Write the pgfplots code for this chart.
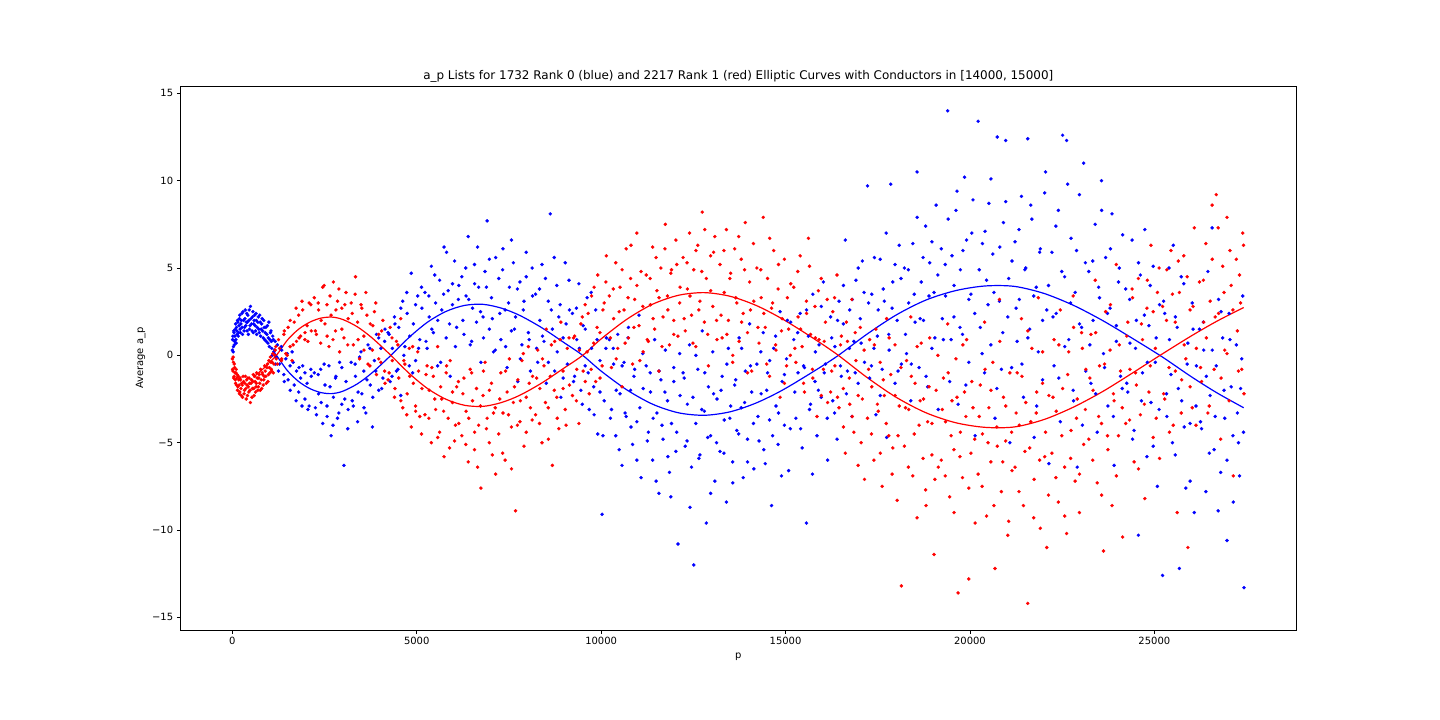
\documentclass[border=0pt]{standalone}
\usepackage{pgfplots}
\pgfplotsset{compat=1.18}
\usepackage{fontspec}
\setmainfont{DejaVu Sans}
\begin{document}
\begin{tikzpicture}
\path[use as bounding box] (0,0) rectangle (1440bp,720bp);
\begin{axis}[
 at={(180.3bp,89.7bp)}, anchor=south west,
 scale only axis, width=1116bp, height=544.3bp,
 xmin=-1410, xmax=28850, ymin=-15.74, ymax=15.42,
 scaled x ticks=false, scaled y ticks=false,
 xtick={0,5000,10000,15000,20000,25000},
 xticklabels={0,5000,10000,15000,20000,25000},
 ytick={-15,-10,-5,0,5,10,15},
 yticklabels={−15,−10,−5,0,5,10,15},
 tick pos=left,
 tick align=outside, major tick length=3.5bp,
 tick style={black, line width=0.8bp},
 axis line style={line width=0.8bp},
 tick label style={font=\fontsize{10}{12}\selectfont},
 xticklabel style={inner sep=0pt, yshift=-3.5bp},
 yticklabel style={inner sep=0pt, xshift=-3.5bp},
 every axis title shift=0pt,
 title={a\_p Lists for 1732 Rank 0 (blue) and 2217 Rank 1 (red) Elliptic Curves with Conductors in [14000, 15000]},
 title style={at={(axis description cs:0.5,1.01194)}, anchor=base, inner sep=0pt, font=\fontsize{12}{14}\selectfont},
 xlabel={p},
 xlabel style={at={(axis description cs:0.5,-0.0527)}, anchor=base, inner sep=0pt, font=\fontsize{10}{12}\selectfont},
 ylabel={Average a\_p},
 ylabel style={at={(axis description cs:-0.0332,0.5)}, anchor=base, inner sep=0pt, font=\fontsize{10}{12}\selectfont},
]
% blue scatter (rank 0)
\addplot[blue, only marks, mark=*, mark size=1.6bp, mark options={solid, draw=blue, fill=blue, line width=0.3bp}] coordinates {
(2,0.3)(17,1.1)(31,0.5)(47,1.3)(61,0.8)(79,1.5)(97,0.9)(113,1.6)(131,1.2)(151,1.9)(173,1.3)(193,2.1)(211,1.5)(233,1.8)(257,2.4)(277,1.2)(307,2.0)(331,1.6)(353,2.6)(379,1.9)(401,1.4)(421,2.3)(449,2.0)(467,1.5)(491,2.8)(521,1.8)(547,2.2)(569,1.3)(593,2.0)(619,1.7)(643,2.4)(661,1.2)(691,1.9)(719,1.5)(743,2.3)(769,1.1)(797,1.8)(823,1.4)(853,2.0)(877,0.9)(907,1.6)(937,1.2)(967,0.7)(991,1.9)(1019,0.9)(1049,1.4)(1069,0.4)(1097,1.1)(1129,0.2)(1163,0.8)(1193,-0.1)
(9,0.9)(24,0.2)(39,1.4)(54,0.6)(71,1.1)(89,1.8)(105,0.7)(122,1.4)(141,2.0)(162,1.1)(183,1.7)(202,2.3)(222,1.3)(245,2.0)(267,1.6)(292,2.5)(319,1.4)(342,2.1)(367,1.7)(390,2.4)(411,1.9)(435,1.2)(458,2.6)(480,1.7)(506,2.1)(534,1.4)(558,2.5)(581,1.8)(606,2.3)(631,1.4)(652,2.0)(676,1.6)(705,2.2)(731,1.3)(756,1.9)(783,1.5)(810,2.1)(838,1.0)(865,1.6)(892,1.3)(922,0.8)(952,1.7)(979,1.0)(1005,0.5)(1034,1.3)(1059,0.8)(1083,0.0)(1113,0.9)(1146,0.3)(1178,-0.5)
(1223,0.6)(1281,-0.5)(1339,0.3)(1397,-1.1)(1451,-0.2)(1513,-1.4)(1567,-0.6)(1621,0.2)(1679,-1.7)(1741,-0.9)(1799,-2.1)(1853,-1.3)(1909,-0.6)(1969,-2.5)(2027,-1.6)(2083,-2.9)(2141,-1.2)
(2223,-1.0)(2281,-3.4)(2339,-2.2)(2397,-0.8)(2451,-3.9)(2513,-1.7)(2567,-2.9)(2621,-0.6)(2679,-4.6)(2741,-2.4)(2799,-1.3)(2853,-3.6)(2909,-0.4)(2969,-2.8)(3027,-6.3)(3083,-1.5)(3141,-3.1)
(3223,-0.4)(3281,-2.9)(3339,-1.2)(3397,-3.8)(3451,-0.1)(3513,-2.2)(3567,-0.9)(3621,-3.3)(3679,0.6)(3741,-1.7)(3799,-4.1)(3853,-0.3)(3909,1.2)(3969,-2.0)(4027,0.4)(4083,-1.3)(4141,1.5)
(4223,1.3)(4281,-1.5)(4339,0.4)(4397,2.2)(4451,-0.9)(4513,1.6)(4567,-2.3)(4621,3.1)(4679,0.5)(4741,2.4)(4799,-0.6)(4853,4.7)(4909,1.8)(4969,-0.3)(5027,3.4)(5083,0.9)(5141,2.7)
(5223,3.6)(5281,0.4)(5339,2.2)(5397,5.1)(5451,1.3)(5513,3.0)(5567,-0.6)(5621,4.3)(5679,2.6)(5741,6.2)(5799,1.0)(5853,3.7)(5909,-1.2)(5969,2.9)(6027,5.4)(6083,1.6)(6141,4.0)
(6223,4.5)(6281,1.2)(6339,3.4)(6397,6.8)(6451,0.6)(6513,2.7)(6567,5.2)(6621,1.9)(6679,3.9)(6741,-0.4)(6799,2.2)(6853,4.8)(6909,7.7)(6969,1.5)(7027,3.3)(7083,0.2)(7141,5.6)
(7223,4.4)(7281,0.9)(7339,6.1)(7397,2.6)(7451,-0.7)(7513,3.9)(7567,1.4)(7621,5.3)(7679,2.2)(7741,-1.5)(7799,4.2)(7853,0.6)(7909,3.1)(7969,5.9)(8027,1.3)(8083,-0.9)(8141,3.4)
(8223,3.5)(8281,-0.4)(8339,2.0)(8397,5.2)(8451,0.8)(8513,-1.6)(8567,3.1)(8621,8.1)(8679,1.5)(8741,-0.9)(8799,4.0)(8853,2.2)(8909,-2.4)(8969,1.0)(9027,5.3)(9083,-0.5)(9141,2.6)
(9223,2.4)(9281,-1.2)(9339,0.9)(9397,4.1)(9451,-2.0)(9513,1.7)(9567,-0.6)(9621,3.3)(9679,-3.1)(9741,0.4)(9799,-1.8)(9853,2.6)(9909,-4.5)(9969,-0.3)(10027,-9.1)(10083,-2.6)(10141,1.0)
(10223,0.9)(10281,-3.1)(10339,-0.5)(10397,-4.6)(10451,1.2)(10513,-2.2)(10567,-6.3)(10621,-0.4)(10679,-3.5)(10741,1.6)(10799,-2.0)(10853,-5.1)(10909,-0.8)(10969,-3.8)(11027,2.3)(11083,-7.0)(11141,-1.9)
(11223,-0.6)(11281,-4.4)(11339,-2.1)(11397,-6.0)(11451,0.9)(11513,-3.3)(11567,-7.9)(11621,-1.4)(11679,-4.8)(11741,0.3)(11799,-2.6)(11853,-6.7)(11909,-3.9)(11969,-0.7)(12027,-5.5)(12083,-10.8)(12141,-2.3)
(12223,-1.0)(12281,-5.2)(12339,-2.8)(12397,0.6)(12451,-6.4)(12513,-12.0)(12567,-3.9)(12621,-0.8)(12679,-5.7)(12741,1.4)(12799,-3.2)(12853,-9.6)(12909,-1.8)(12969,-4.6)(13027,0.2)(13083,-7.2)(13141,-2.5)
(13223,-5.5)(13281,-1.2)(13339,-3.7)(13397,-8.4)(13451,0.4)(13513,-2.9)(13567,-6.1)(13621,-1.7)(13679,-4.3)(13741,1.0)(13799,-3.0)(13853,-7.0)(13909,-0.9)(13969,-4.8)(14027,1.8)(14083,-2.1)(14141,-6.5)
(14223,-0.5)(14281,-4.9)(14339,-2.2)(14397,1.3)(14451,-6.2)(14513,-1.0)(14567,-3.7)(14621,-8.6)(14679,0.4)(14741,-2.9)(14799,-5.1)(14853,2.5)(14909,-1.5)(14969,-4.0)(15027,-0.2)(15083,-6.6)(15141,1.9)
(15223,0.9)(15281,-3.6)(15339,-1.0)(15397,2.4)(15451,-5.3)(15513,-0.7)(15567,-9.6)(15621,1.1)(15679,-2.8)(15741,3.5)(15799,-1.5)(15853,-4.6)(15909,0.6)(15969,-2.4)(16027,4.2)(16083,-0.5)(16141,-6.0)
(16223,2.2)(16281,-2.6)(16339,0.5)(16397,-4.8)(16451,3.1)(16513,-1.2)(16567,1.8)(16621,6.6)(16679,-0.9)(16741,2.6)(16799,-3.5)(16853,0.8)(16909,4.3)(16969,-1.6)(17027,2.1)(17083,5.4)(17141,-0.4)
(17223,9.7)(17281,-1.3)(17339,3.5)(17397,0.4)(17451,-3.4)(17513,2.6)(17567,5.5)(17621,-0.8)(17679,3.1)(17741,-4.7)(17799,1.2)(17853,9.8)(17909,4.2)(17969,-1.6)(18027,2.0)(18083,6.3)(18141,-0.5)
(18223,5.0)(18281,0.1)(18339,3.0)(18397,-2.6)(18451,6.4)(18513,1.9)(18567,10.5)(18621,-0.7)(18679,4.2)(18741,2.0)(18799,7.4)(18853,-1.8)(18909,5.3)(18969,0.4)(19027,3.6)(19083,8.6)(19141,-3.1)
(19223,6.1)(19281,0.9)(19339,3.4)(19397,14.0)(19451,-1.5)(19513,5.7)(19567,2.2)(19621,8.3)(19679,-2.8)(19741,4.9)(19799,1.2)(19853,10.2)(19909,6.6)(19969,-0.4)(20027,3.5)(20083,8.9)(20141,-4.6)
(20223,13.4)(20281,1.6)(20339,6.4)(20397,-1.0)(20451,4.3)(20513,8.7)(20567,0.6)(20621,5.8)(20679,-3.6)(20741,12.5)(20799,3.1)(20853,-0.8)(20909,7.6)(20969,12.3)(21027,2.2)(21083,-5.0)(21141,5.4)
(21223,6.5)(21281,0.8)(21339,3.2)(21397,9.1)(21451,-2.4)(21513,5.0)(21567,12.4)(21621,1.5)(21679,7.8)(21741,-4.7)(21799,3.9)(21853,0.2)(21909,6.1)(21969,-1.4)(22027,9.3)(22083,2.6)(22141,-6.2)
(22223,5.9)(22281,-0.6)(22339,2.4)(22397,8.3)(22451,-3.8)(22513,12.6)(22567,4.5)(22621,12.3)(22679,0.9)(22741,6.7)(22799,-2.0)(22853,3.6)(22909,-6.4)(22969,9.2)(23027,1.6)(23083,11.0)(23141,-0.9)
(23223,4.8)(23281,-1.6)(23339,2.0)(23397,7.5)(23451,-4.4)(23513,3.3)(23567,10.0)(23621,0.1)(23679,5.6)(23741,-2.9)(23799,2.7)(23853,8.1)(23909,-6.3)(23969,0.8)(24027,4.2)(24083,-1.2)(24141,6.9)
(24223,3.8)(24281,-2.1)(24339,0.7)(24397,6.6)(24451,-4.3)(24513,2.0)(24567,-10.3)(24621,4.6)(24679,-1.0)(24741,7.2)(24799,-5.8)(24853,1.7)(24909,-2.7)(24969,5.1)(25027,-0.4)(25083,-7.5)(25141,2.9)
(25223,-12.6)(25281,2.4)(25339,-3.5)(25397,5.0)(25451,-1.1)(25513,6.3)(25567,-5.7)(25621,1.6)(25679,-12.2)(25741,-2.6)(25799,4.1)(25853,-7.6)(25909,0.7)(25969,-3.9)(26027,3.0)(26083,-9.0)(26141,-0.6)
(26223,1.5)(26281,-4.2)(26339,0.3)(26397,-7.8)(26451,4.8)(26513,-2.3)(26567,7.3)(26621,-5.4)(26679,-0.6)(26741,3.2)(26799,-6.7)(26853,1.0)(26909,-3.6)(26969,-10.6)(27027,2.4)(27083,-1.8)(27141,-8.4)
(27223,0.6)(27281,-5.0)(27339,-1.9)(27397,3.4)(27431,-13.3)
(1252,-0.9)(1330,0.5)(1410,-1.5)(1490,0.1)(1570,-2.0)(1650,-0.4)(1730,-2.6)(1810,-0.7)(1890,-2.9)(1970,-1.0)(2050,-3.1)(2130,-0.8)
(2252,-3.0)(2330,-1.1)(2410,-2.7)(2490,-0.5)(2570,-3.5)(2650,-1.8)(2730,-4.0)(2810,-1.2)(2890,-3.3)(2970,-0.7)(3050,-2.5)(3130,-4.2)
(3252,-2.6)(3330,-0.5)(3410,-2.1)(3490,0.2)(3570,-3.0)(3650,-1.4)(3730,0.4)(3810,-2.4)(3890,-0.9)(3970,1.0)(4050,-1.9)(4130,0.8)
(4252,1.2)(4330,-1.2)(4410,1.8)(4490,-0.8)(4570,2.7)(4650,0.0)(4730,3.6)(4810,1.1)(4890,-1.0)(4970,2.9)(5050,0.4)(5130,3.9)
(5252,0.8)(5330,3.4)(5410,1.5)(5490,4.6)(5570,2.0)(5650,-0.4)(5730,3.5)(5810,5.9)(5890,1.8)(5970,4.1)(6050,0.5)(6130,3.2)
(6252,2.0)(6330,5.0)(6410,3.2)(6490,0.8)(6570,4.1)(6650,6.2)(6730,2.5)(6810,1.0)(6890,3.9)(6970,5.5)(7050,2.1)(7130,0.3)
(7252,2.4)(7330,4.9)(7410,0.5)(7490,3.0)(7570,6.6)(7650,1.5)(7730,3.8)(7810,-0.2)(7890,2.6)(7970,4.5)(8050,0.9)(8130,5.0)
(8252,0.4)(8330,3.8)(8410,1.1)(8490,4.4)(8570,-0.4)(8650,2.6)(8730,5.6)(8810,0.2)(8890,2.9)(8970,-1.3)(9050,1.8)(9130,4.3)
(9252,-1.5)(9330,2.7)(9410,0.4)(9490,-2.8)(9570,1.5)(9650,-1.0)(9730,3.6)(9810,-3.4)(9890,0.9)(9970,-2.1)(10050,-4.6)(10130,0.4)
(10252,-3.6)(10330,0.4)(10410,-2.0)(10490,-5.4)(10570,-0.6)(10650,-3.3)(10730,1.0)(10810,-4.1)(10890,-1.2)(10970,-6.0)(11050,-3.0)(11130,0.1)
(11252,-4.9)(11330,-1.0)(11410,-3.6)(11490,-7.2)(11570,-0.9)(11650,-4.0)(11730,-2.1)(11810,-5.8)(11890,-8.1)(11970,-1.5)(12050,-4.4)(12130,0.1)
(12252,-1.3)(12330,-4.9)(12410,-8.7)(12490,-2.4)(12570,0.0)(12650,-5.9)(12730,-3.1)(12810,-1.0)(12890,-4.7)(12970,-7.9)(13050,-2.2)(13130,-5.0)
(13252,-2.0)(13330,-5.6)(13410,-0.5)(13490,-3.6)(13570,-7.3)(13650,-1.4)(13730,-4.5)(13810,0.4)(13890,-2.7)(13970,-6.1)(14050,-0.6)(14130,-3.9)
(14252,-3.5)(14330,0.2)(14410,-5.4)(14490,-2.0)(14570,-0.3)(14650,-4.6)(14730,1.1)(14810,-3.3)(14890,-6.9)(14970,-1.1)(15050,2.0)(15130,-4.2)
(15252,-2.1)(15330,1.3)(15410,-4.2)(15490,-0.6)(15570,2.6)(15650,-3.1)(15730,-6.8)(15810,0.2)(15890,-2.0)(15970,2.8)(16050,-1.0)(16130,-3.6)
(16252,1.0)(16330,-3.3)(16410,2.0)(16490,-0.6)(16570,4.0)(16650,-2.2)(16730,0.4)(16810,3.2)(16890,-1.0)(16970,5.0)(17050,0.7)(17130,3.6)
(17252,3.0)(17330,-0.6)(17410,5.6)(17490,1.1)(17570,-2.3)(17650,3.8)(17730,7.0)(17810,0.3)(17890,2.7)(17970,5.2)(18050,-0.9)(18130,4.4)
(18252,1.2)(18330,4.9)(18410,-0.5)(18490,3.5)(18570,7.9)(18650,2.1)(18730,5.6)(18810,-1.2)(18890,3.4)(18970,6.5)(19050,1.0)(19130,4.6)
(19252,2.1)(19330,5.2)(19410,7.8)(19490,0.9)(19570,4.0)(19650,9.4)(19730,1.6)(19810,6.0)(19890,-1.7)(19970,3.2)(20050,7.0)(20130,2.4)
(20252,4.9)(20330,0.1)(20410,7.1)(20490,2.9)(20570,10.1)(20650,3.6)(20730,-1.9)(20810,6.2)(20890,1.3)(20970,8.8)(21050,4.4)(21130,-0.7)
(21252,2.7)(21330,7.2)(21410,-0.5)(21490,4.9)(21570,1.0)(21650,8.6)(21730,3.4)(21810,-2.9)(21890,5.9)(21970,2.0)(22050,10.5)(22130,4.0)
(22252,2.2)(22330,7.4)(22410,-1.3)(22490,4.8)(22570,0.5)(22650,9.8)(22730,3.0)(22810,-2.6)(22890,6.0)(22970,1.8)(23050,-4.0)(23130,5.3)
(23252,0.6)(23330,5.4)(23410,-2.2)(23490,3.9)(23570,8.3)(23650,-0.7)(23730,2.4)(23810,6.1)(23890,-3.5)(23970,1.7)(24050,5.0)(24130,-1.9)
(24252,-1.6)(24330,3.2)(24410,-4.8)(24490,0.4)(24570,5.3)(24650,-2.6)(24730,2.3)(24810,-0.4)(24890,4.0)(24970,-5.2)(25050,1.0)(25130,-3.1)
(25252,3.1)(25330,-2.2)(25410,0.9)(25490,-5.0)(25570,2.2)(25650,-1.9)(25730,4.5)(25810,-4.1)(25890,-0.5)(25970,-7.2)(26050,1.5)(26130,-2.9)
(26252,-3.8)(26330,1.9)(26410,-1.2)(26490,-5.6)(26570,0.3)(26650,-3.5)(26730,-8.9)(26810,2.5)(26890,-2.0)(26970,-6.0)(27050,0.9)(27130,-4.6)
(27252,-3.3)(27310,-6.9)(27370,-0.2)(27418,-4.4)
};
% red scatter (rank 1)
\addplot[red, only marks, mark=*, mark size=1.6bp, mark options={solid, draw=red, fill=red, line width=0.3bp}] coordinates {
(2,-0.2)(17,-0.9)(31,-0.4)(47,-1.2)(61,-0.7)(79,-1.4)(97,-1.0)(113,-1.7)(131,-1.1)(151,-1.8)(173,-1.4)(193,-2.2)(211,-1.3)(233,-1.9)(257,-1.6)(277,-2.4)(307,-1.5)(331,-2.0)(353,-1.2)(379,-2.5)(401,-1.7)(421,-1.3)(449,-2.1)(467,-1.6)(491,-2.7)(521,-1.4)(547,-1.9)(569,-1.1)(593,-2.3)(619,-1.5)(643,-1.8)(661,-1.0)(691,-2.0)(719,-1.3)(743,-1.6)(769,-0.8)(797,-1.9)(823,-1.1)(853,-1.4)(877,-0.6)(907,-1.2)(937,-0.7)(967,-1.5)(991,-0.3)(1019,-1.0)(1049,-0.4)(1069,-0.9)(1097,0.1)(1129,-0.5)(1163,0.3)(1193,-0.2)
(9,-0.8)(24,-0.1)(39,-1.3)(54,-0.5)(71,-1.0)(89,-1.6)(105,-0.8)(122,-1.3)(141,-2.0)(162,-1.2)(183,-1.7)(202,-2.1)(222,-1.4)(245,-2.3)(267,-1.7)(292,-1.2)(319,-2.2)(342,-1.6)(367,-1.9)(390,-1.4)(411,-2.3)(435,-1.8)(458,-1.3)(480,-2.0)(506,-1.6)(534,-2.4)(558,-1.5)(581,-1.9)(606,-1.2)(631,-2.1)(652,-1.6)(676,-1.3)(705,-1.8)(731,-1.1)(756,-2.0)(783,-1.4)(810,-1.0)(838,-1.7)(865,-1.2)(892,-0.9)(922,-1.6)(952,-0.5)(979,-1.1)(1005,-0.7)(1034,-0.1)(1059,-0.8)(1083,-0.4)(1113,-1.0)(1146,0.0)(1178,0.5)
(1223,-0.5)(1281,0.4)(1339,-0.2)(1397,1.2)(1451,0.1)(1513,1.6)(1567,0.5)(1621,-0.3)(1679,1.9)(1741,0.8)(1799,2.3)(1853,1.1)(1909,2.6)(1969,0.9)(2027,1.7)(2083,3.0)(2141,1.4)
(2223,3.3)(2281,1.2)(2339,2.6)(2397,0.7)(2451,3.9)(2513,1.8)(2567,2.9)(2621,0.5)(2679,2.3)(2741,4.2)(2799,1.4)(2853,3.1)(2909,0.2)(2969,2.7)(3027,1.0)(3083,3.6)(3141,2.1)
(3223,3.0)(3281,0.6)(3339,4.5)(3397,1.9)(3451,-0.2)(3513,2.7)(3567,1.1)(3621,3.6)(3679,-0.5)(3741,1.8)(3799,0.3)(3853,2.5)(3909,-1.1)(3969,1.2)(4027,-0.4)(4083,2.0)(4141,-1.6)
(4223,-1.4)(4281,1.6)(4339,-0.3)(4397,-2.4)(4451,0.8)(4513,-1.3)(4567,2.1)(4621,-3.0)(4679,-0.5)(4741,-2.2)(4799,0.4)(4853,-4.1)(4909,-1.6)(4969,-2.9)(5027,0.2)(5083,-3.5)(5141,-1.9)
(5223,-3.4)(5281,-0.6)(5339,-2.0)(5397,-5.0)(5451,-1.2)(5513,-3.1)(5567,0.5)(5621,-4.4)(5679,-2.5)(5741,-5.8)(5799,-1.0)(5853,-3.6)(5909,-0.3)(5969,-2.7)(6027,-4.9)(6083,-1.8)(6141,-3.9)
(6223,-4.6)(6281,-1.3)(6339,-3.2)(6397,-6.1)(6451,-0.8)(6513,-2.6)(6567,-5.4)(6621,-1.9)(6679,-4.0)(6741,-7.6)(6799,-2.3)(6853,-0.4)(6909,-3.6)(6969,-5.0)(7027,-1.6)(7083,-3.3)(7141,-6.8)
(7223,-4.5)(7281,-1.0)(7339,-3.3)(7397,-6.0)(7451,-2.1)(7513,-0.2)(7567,-4.1)(7621,-2.7)(7679,-8.9)(7741,-1.4)(7799,-3.8)(7853,-0.3)(7909,-5.2)(7969,-2.4)(8027,0.5)(8083,-3.0)(8141,-1.2)
(8223,-3.4)(8281,0.3)(8339,-1.9)(8397,-5.0)(8451,-0.6)(8513,1.5)(8567,-3.0)(8621,-1.2)(8679,-6.3)(8741,0.8)(8799,-2.4)(8853,-4.2)(8909,1.9)(8969,-0.9)(9027,-3.1)(9083,0.4)(9141,-1.7)
(9223,-2.3)(9281,1.1)(9339,-0.8)(9397,-3.9)(9451,1.8)(9513,-0.9)(9567,2.9)(9621,0.2)(9679,-2.2)(9741,3.4)(9799,0.7)(9853,-1.5)(9909,4.6)(9969,1.3)(10027,-0.6)(10083,3.0)(10141,5.7)
(10223,3.4)(10281,-0.7)(10339,2.1)(10397,5.3)(10451,0.4)(10513,3.9)(10567,-1.8)(10621,2.6)(10679,6.1)(10741,1.0)(10799,4.4)(10853,-0.5)(10909,3.2)(10969,7.0)(11027,1.7)(11083,4.8)(11141,0.2)
(11223,4.6)(11281,0.8)(11339,2.9)(11397,6.2)(11451,1.5)(11513,3.7)(11567,-0.9)(11621,5.0)(11679,2.2)(11741,7.5)(11799,3.4)(11853,0.6)(11909,4.9)(11969,2.0)(12027,6.6)(12083,1.1)(12141,3.9)
(12223,5.6)(12281,1.4)(12339,3.8)(12397,7.0)(12451,2.3)(12513,4.9)(12567,0.5)(12621,6.3)(12679,3.1)(12741,8.2)(12799,1.9)(12853,4.4)(12909,-0.6)(12969,5.7)(13027,2.8)(13083,6.8)(13141,0.9)
(13223,5.2)(13281,1.0)(13339,3.6)(13397,7.2)(13451,2.0)(13513,4.7)(13567,-0.4)(13621,6.1)(13679,3.0)(13741,0.8)(13799,5.5)(13853,2.4)(13909,7.6)(13969,1.3)(14027,4.2)(14083,-0.9)(14141,3.1)
(14223,5.0)(14281,0.7)(14339,3.3)(14397,7.9)(14451,1.6)(14513,4.4)(14567,-1.2)(14621,2.7)(14679,6.0)(14741,0.3)(14799,3.8)(14853,-2.4)(14909,2.1)(14969,5.5)(15027,-0.6)(15083,1.5)(15141,4.1)
(15223,3.9)(15281,-0.4)(15339,2.2)(15397,5.7)(15451,0.5)(15513,-2.1)(15567,3.1)(15621,6.7)(15679,1.2)(15741,-1.3)(15799,2.8)(15853,-3.5)(15909,0.9)(15969,4.4)(16027,-0.8)(16083,1.9)(16141,-2.7)
(16223,-2.1)(16281,2.5)(16339,-0.6)(16397,4.6)(16451,-3.0)(16513,1.1)(16567,-1.9)(16621,-5.6)(16679,0.8)(16741,-2.8)(16799,3.2)(16853,-4.4)(16909,-0.3)(16969,-6.3)(17027,1.6)(17083,-2.5)(17141,-7.1)
(17223,-3.6)(17281,0.9)(17339,-1.8)(17397,-6.0)(17451,1.5)(17513,-3.2)(17567,-0.4)(17621,-7.5)(17679,-2.3)(17741,2.1)(17799,-4.6)(17853,-1.1)(17909,-5.3)(17969,0.6)(18027,-8.3)(18083,-2.9)(18141,-13.2)
(18223,-5.2)(18281,-0.3)(18339,-3.1)(18397,2.2)(18451,-6.9)(18513,-1.6)(18567,-9.3)(18621,-4.0)(18679,0.7)(18741,-2.5)(18799,-7.7)(18853,-3.8)(18909,1.0)(18969,-5.7)(19027,-11.4)(19083,-2.0)(19141,-6.4)
(19223,-6.0)(19281,-1.3)(19339,-3.8)(19397,1.8)(19451,-8.1)(19513,-2.6)(19567,-5.4)(19621,-0.2)(19679,-13.6)(19741,-4.4)(19799,-7.0)(19853,-2.1)(19909,0.9)(19969,-12.8)(20027,-5.6)(20083,-3.0)(20141,-9.6)
(20223,-6.8)(20281,-1.7)(20339,-4.5)(20397,1.9)(20451,-9.2)(20513,-3.0)(20567,-6.1)(20621,-0.4)(20679,-12.2)(20741,-5.2)(20799,3.2)(20853,-7.8)(20909,-2.4)(20969,-4.9)(21027,-10.3)(21083,-1.0)(21141,-6.6)
(21223,-6.4)(21281,-1.0)(21339,-4.0)(21397,2.1)(21451,-8.6)(21513,-2.7)(21567,-14.2)(21621,-5.3)(21679,0.4)(21741,-7.1)(21799,-3.3)(21853,3.3)(21909,-9.9)(21969,-1.6)(22027,-5.8)(22083,-11.0)(22141,-2.3)
(22223,-5.6)(22281,0.9)(22339,-3.2)(22397,-8.4)(22451,2.6)(22513,-1.9)(22567,-6.4)(22621,-10.2)(22679,0.2)(22741,-4.3)(22799,3.4)(22853,-7.2)(22909,-2.5)(22969,-9.0)(23027,1.3)(23083,-5.1)(23141,-0.8)
(23223,-4.8)(23281,1.2)(23339,-2.0)(23397,4.3)(23451,-7.3)(23513,-0.6)(23567,-3.9)(23621,-11.2)(23679,2.5)(23741,-5.4)(23799,0.3)(23853,-8.6)(23909,-2.6)(23969,5.2)(24027,-4.6)(24083,-0.9)(24141,-10.4)
(24223,-3.9)(24281,1.9)(24339,-0.8)(24397,3.8)(24451,-6.1)(24513,-1.7)(24567,4.4)(24621,-3.4)(24679,0.9)(24741,-8.2)(24799,2.7)(24853,-2.1)(24909,6.3)(24969,-4.7)(25027,0.4)(25083,3.6)(25141,-5.9)
(25223,2.8)(25281,-2.5)(25339,4.9)(25397,-0.7)(25451,6.0)(25513,-4.0)(25567,1.9)(25621,-9.0)(25679,3.6)(25741,-1.4)(25799,5.7)(25853,-0.2)(25909,-11.0)(25969,2.6)(26027,-3.0)(26083,7.3)(26141,0.4)
(26223,4.2)(26281,-1.5)(26339,1.9)(26397,6.4)(26451,-3.3)(26513,3.1)(26567,8.6)(26621,-0.8)(26679,9.2)(26741,2.4)(26799,-4.8)(26853,5.1)(26909,0.3)(26969,7.9)(27027,-2.6)(27083,4.0)(27141,-6.9)
(27223,5.5)(27281,-0.9)(27339,3.0)(27397,7.0)(27431,-2.2)
(1252,0.9)(1330,-0.3)(1410,1.4)(1490,0.0)(1570,2.0)(1650,0.6)(1730,2.7)(1810,1.0)(1890,3.1)(1970,1.3)(2050,0.8)(2130,2.9)
(2252,1.4)(2330,3.0)(2410,2.0)(2490,4.0)(2570,1.1)(2650,3.4)(2730,0.9)(2810,2.6)(2890,3.8)(2970,1.5)(3050,2.9)(3130,0.6)
(3252,2.4)(3330,3.5)(3410,0.9)(3490,2.9)(3570,0.3)(3650,2.3)(3730,-0.6)(3810,1.7)(3890,3.0)(3970,-0.2)(4050,1.4)(4130,-0.9)
(4252,-1.0)(4330,1.0)(4410,-1.9)(4490,0.6)(4570,-2.6)(4650,-0.3)(4730,-3.4)(4810,-1.2)(4890,0.5)(4970,-3.2)(5050,-0.9)(5130,-4.5)
(5252,-1.1)(5330,-3.6)(5410,-0.7)(5490,-2.5)(5570,-4.7)(5650,-1.8)(5730,-3.2)(5810,-0.6)(5890,-5.3)(5970,-2.1)(6050,-4.0)(6130,-1.5)
(6252,-2.2)(6330,-5.1)(6410,-3.6)(6490,-1.0)(6570,-4.4)(6650,-6.4)(6730,-2.9)(6810,-0.9)(6890,-4.2)(6970,-2.0)(7050,-5.7)(7130,-3.0)
(7252,-2.5)(7330,-5.6)(7410,-0.9)(7490,-3.4)(7570,-6.5)(7650,-1.8)(7730,-4.0)(7810,-2.6)(7890,0.1)(7970,-4.4)(8050,-1.6)(8130,-3.7)
(8252,-1.3)(8330,-3.9)(8410,-0.2)(8490,-2.7)(8570,-4.8)(8650,0.6)(8730,-2.0)(8810,-3.6)(8890,0.9)(8970,-1.9)(9050,-4.0)(9130,1.0)
(9252,1.0)(9330,-2.6)(9410,0.3)(9490,2.2)(9570,-1.5)(9650,2.4)(9730,-0.8)(9810,3.9)(9890,1.6)(9970,-1.3)(10050,2.6)(10130,4.2)
(10252,1.0)(10330,3.8)(10410,-0.2)(10490,2.5)(10570,4.9)(10650,0.7)(10730,3.3)(10810,6.3)(10890,1.6)(10970,4.0)(11050,-0.3)(11130,2.8)
(11252,0.9)(11330,4.4)(11410,2.1)(11490,5.6)(11570,3.3)(11650,0.5)(11730,6.1)(11810,2.6)(11890,4.7)(11970,1.2)(12050,5.2)(12130,3.0)
(12252,2.1)(12330,5.3)(12410,3.4)(12490,0.7)(12570,6.0)(12650,2.6)(12730,4.8)(12810,7.2)(12890,1.2)(12970,3.7)(13050,5.9)(13130,2.0)
(13252,2.3)(13330,6.0)(13410,1.2)(13490,4.4)(13570,0.0)(13650,3.3)(13730,6.8)(13810,1.9)(13890,4.9)(13970,-1.0)(14050,2.6)(14130,6.4)
(14252,1.6)(14330,4.9)(14410,2.4)(14490,-0.5)(14570,6.7)(14650,3.0)(14730,0.6)(14810,5.2)(14890,1.4)(14970,-1.6)(15050,3.3)(15130,0.0)
(15252,0.4)(15330,4.8)(15410,1.5)(15490,-1.6)(15570,2.4)(15650,5.1)(15730,-0.8)(15810,1.0)(15890,3.7)(15970,-2.3)(16050,0.8)(16130,3.2)
(16252,-0.9)(16330,3.3)(16410,-2.4)(16490,0.6)(16570,-4.1)(16650,1.9)(16730,-1.3)(16810,-3.5)(16890,1.3)(16970,-2.3)(17050,-5.0)(17130,0.3)
(17252,-0.8)(17330,-4.5)(17410,0.6)(17490,-2.8)(17570,-5.6)(17650,-1.4)(17730,-3.9)(17810,1.0)(17890,-6.8)(17970,-2.3)(18050,-4.6)(18130,-0.7)
(18252,-3.0)(18330,-6.4)(18410,-1.2)(18490,-4.5)(18570,0.5)(18650,-2.6)(18730,-5.9)(18810,-8.6)(18890,-1.8)(18970,-3.9)(19050,-7.1)(19130,0.0)
(19252,-3.1)(19330,-6.9)(19410,-1.0)(19490,-4.6)(19570,-9.0)(19650,-2.4)(19730,-5.8)(19810,0.6)(19890,-3.5)(19970,-7.6)(20050,-1.5)(20130,-4.8)
(20252,-3.5)(20330,-7.5)(20410,-0.8)(20490,-5.0)(20570,-2.0)(20650,-8.6)(20730,-4.1)(20810,0.8)(20890,-6.1)(20970,-2.9)(21050,-9.5)(21130,-4.4)
(21252,-3.3)(21330,-7.8)(21410,-1.2)(21490,-5.5)(21570,1.4)(21650,-3.8)(21730,-9.3)(21810,-2.1)(21890,-6.0)(21970,0.2)(22050,-4.4)(22130,-8.0)
(22252,-2.4)(22330,-7.0)(22410,0.6)(22490,-4.6)(22570,-9.2)(22650,-1.1)(22730,-5.9)(22810,1.6)(22890,-3.6)(22970,-6.8)(23050,0.4)(23130,-3.1)
(23252,-1.3)(23330,-6.0)(23410,1.3)(23490,-3.5)(23570,-8.0)(23650,-0.5)(23730,-4.6)(23810,2.9)(23890,-2.2)(23970,-6.9)(24050,0.6)(24130,-3.0)
(24252,1.1)(24330,-3.7)(24410,3.3)(24490,-1.0)(24570,-6.5)(24650,1.8)(24730,-2.8)(24810,4.3)(24890,-0.6)(24970,2.5)(25050,-3.6)(25130,5.0)
(25252,-2.2)(25330,2.0)(25410,-4.4)(25490,3.5)(25570,-0.9)(25650,5.4)(25730,-3.3)(25810,0.6)(25890,4.5)(25970,-1.8)(26050,2.8)(26130,-4.0)
(26252,-0.7)(26330,4.3)(26410,1.0)(26490,-2.9)(26570,5.5)(26650,2.2)(26730,7.3)(26810,-1.3)(26890,3.6)(26970,0.1)(27050,6.0)(27130,2.6)
(27252,1.4)(27310,4.6)(27370,-0.8)(27418,6.3)
};
% fitted curves
\addplot[blue, line width=1.2bp, smooth, no marks] coordinates {
(1100,0.24)(1200,-0.01)(1500,-0.89)(1800,-1.50)(2100,-1.90)(2400,-2.13)(2700,-2.19)(3000,-2.05)(3400,-1.62)(3800,-0.98)(4300,0)(4800,1.04)(5300,1.91)(5800,2.52)(6300,2.86)(6800,2.92)(7300,2.70)(7800,2.28)(8400,1.57)(9000,0.72)(9500,0)(10000,-0.90)(10700,-1.98)(11400,-2.80)(12100,-3.29)(12800,-3.43)(13500,-3.23)(14200,-2.73)(14900,-2.01)(15700,-1.00)(16400,-0.05)(17200,1.20)(18000,2.31)(18800,3.16)(19600,3.70)(20400,3.97)(21200,3.95)(22000,3.55)(22800,2.87)(23600,1.99)(24400,0.98)(25200,-0.07)(26000,-1.22)(26700,-2.15)(27423,-3.00)
};
\addplot[red, line width=1.2bp, smooth, no marks] coordinates {
(570,-1.25)(800,-0.84)(1000,-0.42)(1200,0.01)(1500,0.89)(1800,1.50)(2100,1.90)(2400,2.13)(2700,2.19)(3000,2.05)(3400,1.62)(3800,0.98)(4300,0)(4800,-1.04)(5300,-1.91)(5800,-2.52)(6300,-2.86)(6800,-2.92)(7300,-2.70)(7800,-2.28)(8400,-1.57)(9000,-0.72)(9500,0)(10000,0.94)(10700,2.07)(11400,2.93)(12100,3.44)(12800,3.59)(13500,3.38)(14200,2.86)(14900,2.10)(15700,1.05)(16400,0.05)(17200,-1.25)(18000,-2.40)(18800,-3.28)(19600,-3.85)(20400,-4.12)(21200,-4.10)(22000,-3.68)(22800,-2.97)(23600,-2.07)(24400,-1.02)(25200,0.06)(26000,1.11)(26700,1.96)(27423,2.74)
};
\end{axis}
\end{tikzpicture}
\end{document}
